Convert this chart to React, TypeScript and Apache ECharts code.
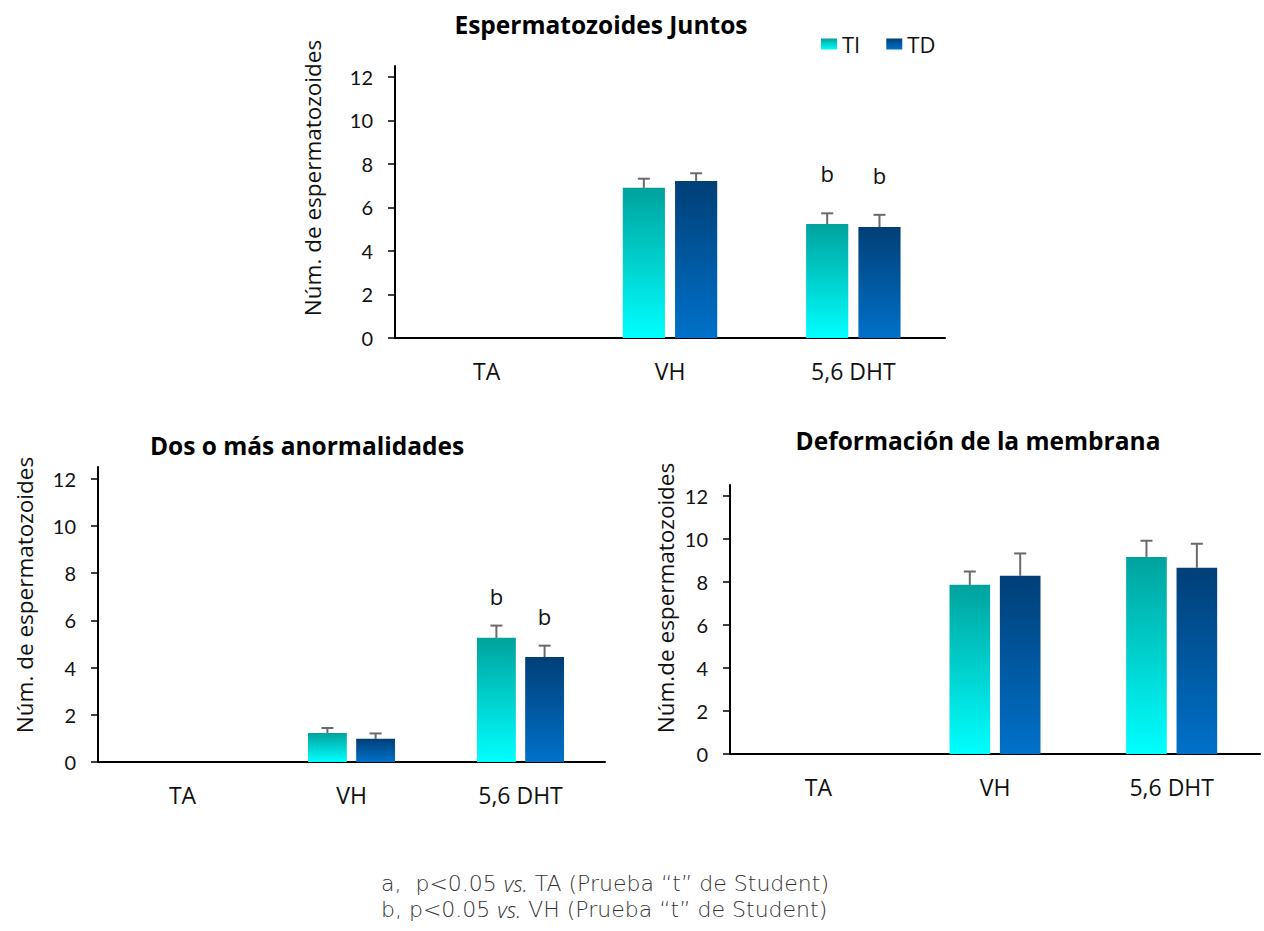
import React, { useEffect, useRef } from "react";
import * as echarts from "echarts";

// Groups on the x axis
const CATEGORIES = ["TA", "VH", "5,6 DHT"];
const Y_TICKS = [0, 2, 4, 6, 8, 10, 12];
const SERIES_NAMES = ["TI", "TD"];

// Espermatozoides Juntos
const juntosTI = [0, 6.9, 5.24];
const juntosTIErr = [0, 0.42, 0.49];
const juntosTD = [0, 7.22, 5.1];
const juntosTDErr = [0, 0.35, 0.56];
const juntosTISig = ["", "", "b"];
const juntosTDSig = ["", "", "b"];

// Dos o más anormalidades
const anormTI = [0, 1.23, 5.26];
const anormTIErr = [0, 0.21, 0.52];
const anormTD = [0, 0.98, 4.45];
const anormTDErr = [0, 0.23, 0.48];
const anormTISig = ["", "", "b"];
const anormTDSig = ["", "", "b"];

// Deformación de la membrana
const membTI = [0, 7.86, 9.16];
const membTIErr = [0, 0.62, 0.75];
const membTD = [0, 8.28, 8.65];
const membTDErr = [0, 1.04, 1.12];
const membTISig = ["", "", ""];
const membTDSig = ["", "", ""];

const FOOT_1 = ["a,  p<0.05 ", "vs.", " TA (Prueba “t” de Student)"];
const FOOT_2 = ["b, p<0.05 ", "vs.", " VH (Prueba “t” de Student)"];

const BAR_FRAC = 0.23;
const GAP_FRAC = 0.24;

const TICK_FONT = "Lato";
const CAT_FONT = "Open Sans";
const FOOT_FONT = "DejaVu Sans";
const FOOT_SIZE = 22;

const gradTI = () =>
  new echarts.graphic.LinearGradient(0, 0, 0, 1, [
    { offset: 0, color: "#00A29D" },
    { offset: 1, color: "#00FFFF" },
  ]);
const gradTD = () =>
  new echarts.graphic.LinearGradient(0, 0, 0, 1, [
    { offset: 0, color: "#003F77" },
    { offset: 1, color: "#0071C9" },
  ]);

type Panel = {
  title: string;
  yName: string;
  grid: { left: number; top: number; width: number; height: number };
  titlePos: [number, number];
  namePos: [number, number];
  sigOffset: number;
  ti: number[];
  tiErr: number[];
  tiSig: string[];
  td: number[];
  tdErr: number[];
  tdSig: string[];
};

const panels: Panel[] = [
  {
    title: "Espermatozoides Juntos",
    yName: "Núm. de espermatozoides",
    grid: { left: 395, top: 66, width: 550, height: 272 },
    titlePos: [601, 24],
    namePos: [312, 178],
    sigOffset: 40,
    ti: juntosTI,
    tiErr: juntosTIErr,
    tiSig: juntosTISig,
    td: juntosTD,
    tdErr: juntosTDErr,
    tdSig: juntosTDSig,
  },
  {
    title: "Dos o más anormalidades",
    yName: "Núm. de espermatozoides",
    grid: { left: 98, top: 467, width: 507, height: 295 },
    titlePos: [307, 445],
    namePos: [24, 595],
    sigOffset: 30,
    ti: anormTI,
    tiErr: anormTIErr,
    tiSig: anormTISig,
    td: anormTD,
    tdErr: anormTDErr,
    tdSig: anormTDSig,
  },
  {
    title: "Deformación de la membrana",
    yName: "Núm.de espermatozoides",
    grid: { left: 730, top: 485, width: 530, height: 269 },
    titlePos: [978, 440],
    namePos: [665, 598],
    sigOffset: 30,
    ti: membTI,
    tiErr: membTIErr,
    tiSig: membTISig,
    td: membTD,
    tdErr: membTDErr,
    tdSig: membTDSig,
  },
];

function errorSeries(
  idx: number,
  name: string,
  side: number,
  values: number[],
  errs: number[],
  sig: string[],
  sigOffset: number
) {
  return {
    type: "custom",
    name,
    xAxisIndex: idx,
    yAxisIndex: idx,
    z: 5,
    silent: true,
    data: values.map((v, i) => [i, v, errs[i]]),
    renderItem: (params: any, api: any) => {
      const ci = api.value(0);
      const v = api.value(1);
      const e = api.value(2);
      const s = sig[ci];
      const band = api.size([1, 0])[0];
      const bw = band * BAR_FRAC;
      const shift = (side * (bw + bw * GAP_FRAC)) / 2;
      const base = api.coord([ci, v]);
      const top = api.coord([ci, v + e]);
      const x = base[0] + shift;
      const children: any[] = [];
      const ls = { stroke: "#6A6A6A", lineWidth: 2 };
      if (e > 0) {
        children.push({
          type: "line",
          shape: { x1: x, y1: base[1], x2: x, y2: top[1] },
          style: ls,
        });
        children.push({
          type: "line",
          shape: { x1: x - 6, y1: top[1], x2: x + 6, y2: top[1] },
          style: ls,
        });
      }
      if (s) {
        children.push({
          type: "text",
          x,
          y: top[1] - sigOffset,
          style: {
            text: s,
            fill: "#111",
            font: `22px ${CAT_FONT}`,
            align: "center",
            verticalAlign: "middle",
          },
        });
      }
      return { type: "group", children };
    },
  };
}

function buildOption() {
  const grid: any[] = [];
  const xAxis: any[] = [];
  const yAxis: any[] = [];
  const series: any[] = [];
  const graphic: any[] = [];

  panels.forEach((p, idx) => {
    grid.push({ ...p.grid, containLabel: false });
    xAxis.push({
      type: "category",
      gridIndex: idx,
      data: CATEGORIES,
      axisLine: { show: true, lineStyle: { color: "#000", width: 2 } },
      axisTick: { show: false },
      axisLabel: {
        margin: 21,
        color: "#111",
        fontFamily: CAT_FONT,
        fontSize: 23,
      },
      splitLine: { show: false },
    });
    yAxis.push({
      type: "value",
      gridIndex: idx,
      min: 0,
      max: 12.5,
      interval: 2,
      axisLine: { show: true, lineStyle: { color: "#000", width: 2 } },
      axisTick: {
        show: true,
        length: 7,
        customValues: Y_TICKS,
        lineStyle: { color: "#000", width: 1.5 },
      },
      axisLabel: {
        margin: 22,
        color: "#111",
        fontFamily: TICK_FONT,
        fontSize: 20,
        customValues: Y_TICKS,
      },
      splitLine: { show: false },
    });
    series.push({
      type: "bar",
      name: SERIES_NAMES[0],
      xAxisIndex: idx,
      yAxisIndex: idx,
      data: p.ti,
      barWidth: `${BAR_FRAC * 100}%`,
      barGap: `${GAP_FRAC * 100}%`,
      itemStyle: { color: gradTI() },
    });
    series.push({
      type: "bar",
      name: SERIES_NAMES[1],
      xAxisIndex: idx,
      yAxisIndex: idx,
      data: p.td,
      barWidth: `${BAR_FRAC * 100}%`,
      barGap: `${GAP_FRAC * 100}%`,
      itemStyle: { color: gradTD() },
    });
    series.push(errorSeries(idx, SERIES_NAMES[0], -1, p.ti, p.tiErr, p.tiSig, p.sigOffset));
    series.push(errorSeries(idx, SERIES_NAMES[1], 1, p.td, p.tdErr, p.tdSig, p.sigOffset));

    graphic.push({
      type: "text",
      x: p.titlePos[0],
      y: p.titlePos[1],
      style: {
        text: p.title,
        fill: "#000",
        font: `bold 24.5px ${CAT_FONT}`,
        align: "center",
        verticalAlign: "middle",
      },
    });
    graphic.push({
      type: "text",
      x: p.namePos[0],
      y: p.namePos[1],
      rotation: Math.PI / 2,
      style: {
        text: p.yName,
        fill: "#111",
        font: `22.5px ${CAT_FONT}`,
        align: "center",
        verticalAlign: "middle",
      },
    });
  });

  // Footnote lines, each with an italic "vs."
  const footLine = (parts: string[], y: number) => ({
    type: "text",
    x: 381,
    y,
    style: {
      text: `${parts[0]}{i|${parts[1]}}${parts[2]}`,
      fill: "#333",
      font: `200 ${FOOT_SIZE}px ${FOOT_FONT}`,
      align: "left",
      verticalAlign: "middle",
      rich: {
        i: {
          fontStyle: "italic",
          fontWeight: 300,
          fontSize: FOOT_SIZE,
          fontFamily: CAT_FONT,
          fill: "#333",
        },
      },
    },
  });
  graphic.push(footLine(FOOT_1, 883));
  graphic.push(footLine(FOOT_2, 909));

  return {
    animation: false,
    backgroundColor: "#fff",
    grid,
    xAxis,
    yAxis,
    series,
    graphic,
    legend: {
      left: 816,
      top: 28,
      data: SERIES_NAMES,
      icon: "rect",
      itemWidth: 16,
      itemHeight: 11,
      itemGap: 26,
      selectedMode: false,
      textStyle: { fontFamily: CAT_FONT, fontSize: 22, color: "#111" },
    },
  };
}

export default function App() {
  const ref = useRef<HTMLDivElement>(null);
  useEffect(() => {
    if (!ref.current) return;
    const chart = echarts.init(ref.current, undefined, { renderer: "svg" });
    chart.setOption(buildOption() as any);
    return () => chart.dispose();
  }, []);
  return (
    <div
      ref={ref}
      style={{ position: "absolute", left: 0, top: 0, width: 1264, height: 931 }}
    />
  );
}
